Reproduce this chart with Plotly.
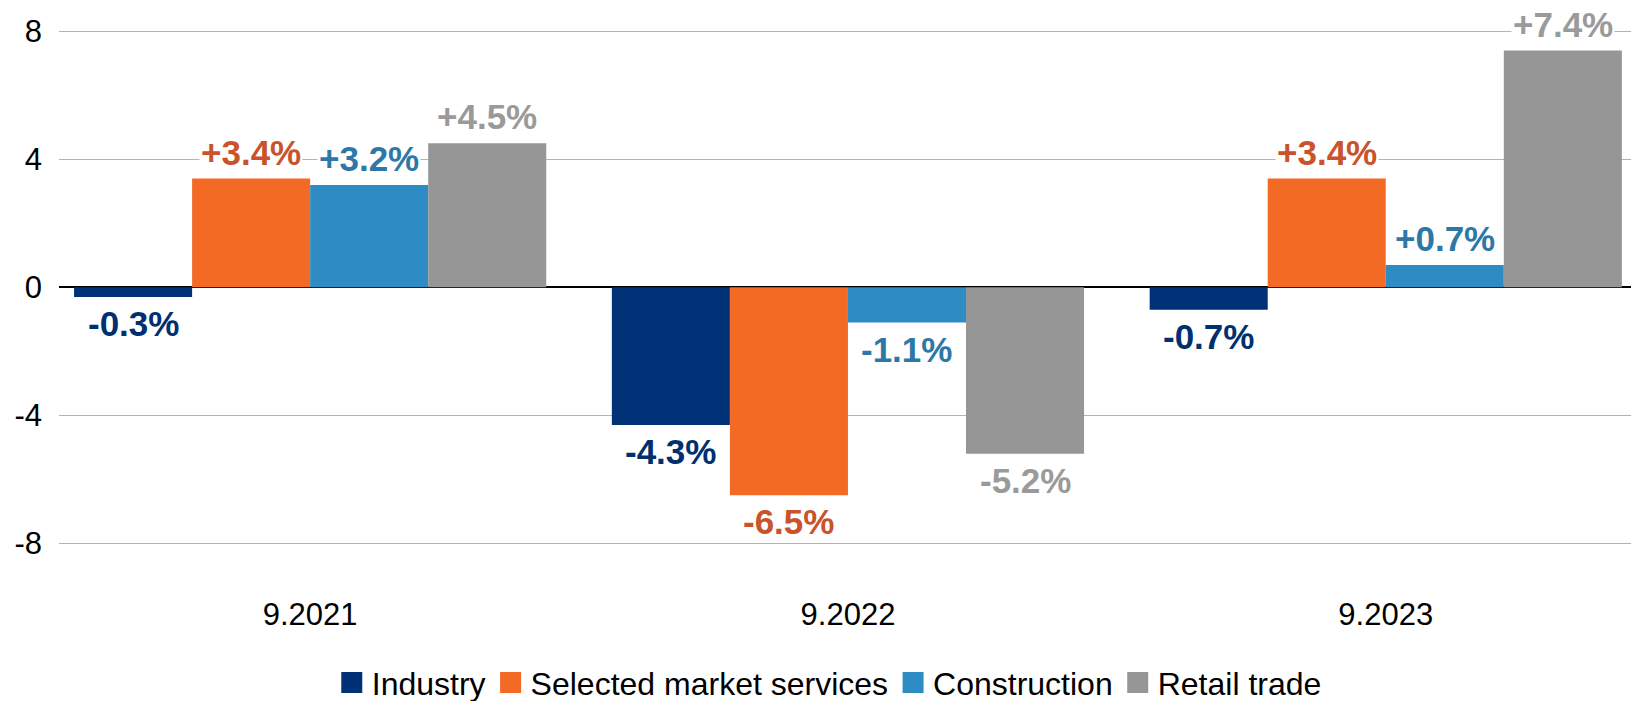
import plotly.graph_objects as go

categories = ["9.2021", "9.2022", "9.2023"]
series_names = ["Industry", "Selected market services", "Construction", "Retail trade"]
industry = [-0.3, -4.3, -0.7]
services = [3.4, -6.5, 3.4]
construction = [3.2, -1.1, 0.7]
retail = [4.5, -5.2, 7.4]
y_ticks = [-8, -4, 0, 4, 8]
y_tick_labels = ["-8", "-4", "0", "4", "8"]

values = [industry, services, construction, retail]
bar_colors = ["#003075", "#F26A24", "#2E8BC4", "#969696"]
label_colors = ["#00306F", "#C9532B", "#2E78A8", "#9A9A9A"]

W, H = 1631, 701
ml, mr, mt, mb = 59, 0, 0, 114
plot_w = W - ml - mr
x_range = [-0.467, 2.456]
bargap = 0.122
px_per_cat = plot_w / (x_range[1] - x_range[0])
bar_px = px_per_cat * (1 - bargap) / 4

FONT = "Liberation Sans, Arial, sans-serif"

fig = go.Figure()
for name, vals, col in zip(series_names, values, bar_colors):
    fig.add_trace(go.Bar(x=categories, y=vals, name=name, showlegend=False,
                         marker=dict(color=col, line=dict(width=0))))
# legend entries with large square swatches
for name, col in zip(series_names, bar_colors):
    fig.add_trace(go.Scatter(x=[None], y=[None], name=name, mode="markers",
                             marker=dict(symbol="square", size=16, color=col,
                                         line=dict(width=5, color=col))))

annotations = []
for i, (vals, lc) in enumerate(zip(values, label_colors)):
    for ci, v in enumerate(vals):
        pos = v >= 0
        annotations.append(dict(
            x=ci, y=v, xref="x", yref="y",
            text="<b>" + ("+" if pos else "") + f"{v:.1f}%" + "</b>",
            showarrow=False,
            xshift=(i - 1.5) * bar_px,
            yshift=5 if pos else -5,
            yanchor="bottom" if pos else "top",
            xanchor="center",
            font=dict(family=FONT, size=35, color=lc),
            bgcolor="white", borderpad=1,
        ))

fig.update_layout(
    width=W, height=H,
    margin=dict(l=ml, r=mr, t=mt, b=mb, autoexpand=False),
    paper_bgcolor="white", plot_bgcolor="white",
    barmode="group", bargap=bargap, bargroupgap=0,
    font=dict(family=FONT, size=31, color="black"),
    showlegend=True,
    legend=dict(orientation="h", x=0.49, xanchor="center",
                yref="container", y=0.026, yanchor="middle",
                font=dict(size=32), traceorder="normal", itemwidth=30,
                tracegroupgap=0),
    annotations=annotations,
)
fig.update_xaxes(type="category", range=x_range, showgrid=False, showline=False, ticks="",
                 ticklabelstandoff=6, automargin=False)
fig.update_yaxes(range=[-9.366, 8.98], tickvals=y_ticks, ticktext=y_tick_labels,
                 showgrid=True, gridcolor="#B3B3B3", gridwidth=1,
                 zeroline=True, zerolinecolor="black", zerolinewidth=2, showline=False,
                 ticks="", ticklabelstandoff=16, automargin=False)

fig.write_html("out.html", config={"displayModeBar": False})

# remove the default page margin so the figure sits at the window's top-left corner
with open("out.html", "r", encoding="utf-8") as f:
    html = f.read()
html = html.replace("<body>", '<body style="margin:0;overflow:hidden">', 1)
with open("out.html", "w", encoding="utf-8") as f:
    f.write(html)
